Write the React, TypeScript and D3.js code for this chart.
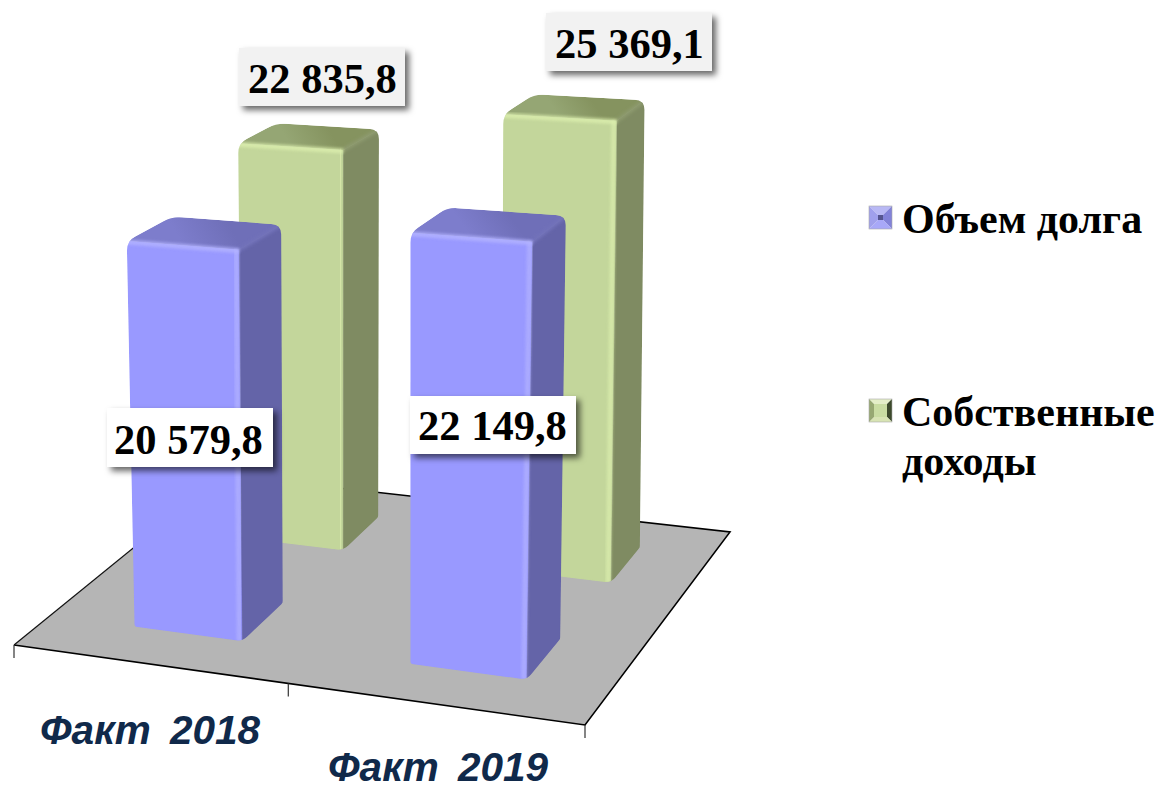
import React from "react";
import * as d3 from "d3";

const categories = ["Факт 2018", "Факт 2019"];
const seriesNames = ["Объем долга", "Собственные доходы"];
const debtValues = [20579.8, 22149.8];
const incomeValues = [22835.8, 25369.1];
const valueLabels = [["20 579,8", "22 149,8"], ["22 835,8", "25 369,1"]];

const W = 1158, H = 785;
type P = [number, number];

// floor quad in screen space: front-left, front-right, back-right, back-left
const A: P = [14, 645], B: P = [585, 725], C: P = [730, 532], D: P = [223, 475];
const den = (B[0] - C[0]) * (D[1] - C[1]) - (D[0] - C[0]) * (B[1] - C[1]);
const sx = A[0] - B[0] + C[0] - D[0], sy = A[1] - B[1] + C[1] - D[1];
const g = (sx * (D[1] - C[1]) - (D[0] - C[0]) * sy) / den;
const h = ((B[0] - C[0]) * sy - sx * (B[1] - C[1])) / den;
const a = B[0] - A[0] + g * B[0], b = D[0] - A[0] + h * D[0];
const d = B[1] - A[1] + g * B[1], e = D[1] - A[1] + h * D[1];
const weight = (u: number, v: number) => g * u + h * v + 1;
const floorPt = (u: number, v: number): P => {
  const w = weight(u, v);
  return [(a * u + b * v + A[0]) / w, (d * u + e * v + A[1]) / w];
};

const uScale = d3.scaleBand<string>().domain(categories).range([0.01, 1.01]).paddingInner(0.6).paddingOuter(0.3);
const vScale = d3.scaleBand<string>().domain(seriesNames).range([0.005, 1.01]).paddingInner(0.6).paddingOuter(0.3);
const heightScale = d3.scaleLinear().domain([0, 30000]).range([0, 570]);
const seriesShift = [0, 0.008];

const lift = (u: number, v: number, value: number, cu: number): P => {
  const [x, y] = floorPt(u, v);
  const [cx] = floorPt(cu, v);
  const hp = heightScale(value) / weight(u, v) - 8 * v;
  const k = hp / 400;
  return [x + (x - 380) * 0.033 * (1 - 0.7 * v) * k + (x - cx) * 0.015 * k, y - hp];
};

const poly = d3.line<P>().curve(d3.curveLinearClosed);
const open = d3.line<P>();

function rounded(pts: P[], radii: number[]): string {
  const n = pts.length;
  let s = "";
  pts.forEach((p, i) => {
    const prev = pts[(i + n - 1) % n], next = pts[(i + 1) % n], r = radii[i];
    const l1 = Math.hypot(prev[0] - p[0], prev[1] - p[1]), l2 = Math.hypot(next[0] - p[0], next[1] - p[1]);
    const p1: P = [p[0] + ((prev[0] - p[0]) * r) / l1, p[1] + ((prev[1] - p[1]) * r) / l1];
    const p2: P = [p[0] + ((next[0] - p[0]) * r) / l2, p[1] + ((next[1] - p[1]) * r) / l2];
    s += `${i === 0 ? "M" : "L"}${p1[0]},${p1[1]}Q${p[0]},${p[1]} ${p2[0]},${p2[1]}`;
  });
  return s + "Z";
}

const mix = (p: P, q: P, t: number): P => [p[0] + (q[0] - p[0]) * t, p[1] + (q[1] - p[1]) * t];

const blueTheme = { front: "#9999ff", side: "#6464a8", sideHi: "#7272ba", topBack: "#6f6fb8", topFront: "#7d7dcc", hi: "#b4b4ff" };
const greenTheme = { front: "#c3d69b", side: "#7f8b62", sideHi: "#8d9a6e", topBack: "#85935f", topFront: "#95a674", hi: "#dcefae" };

type Theme = typeof blueTheme;

function Bar({ id, cat, series, shift, value, theme }: { id: string; cat: string; series: string; shift: number; value: number; theme: Theme }) {
  const u0 = uScale(cat)! + shift, u1 = u0 + uScale.bandwidth(), uc = (u0 + u1) / 2;
  const v0 = vScale(series)!, v1 = v0 + vScale.bandwidth();
  const fbl = floorPt(u0, v0), fbr = floorPt(u1, v0), bbr = floorPt(u1, v1);
  const ftl = lift(u0, v0, value, uc), ftr = lift(u1, v0, value, uc);
  const btr = lift(u1, v1, value, uc), btl = lift(u0, v1, value, uc);
  const outline = rounded([fbl, ftl, btl, btr, bbr, fbr], [3, 10, 10, 10, 2, 7]);
  const topMid = mix(btl, btr, 0.5), frontMid = mix(ftl, ftr, 0.5);
  return (
    <g>
      <defs>
        <clipPath id={`clip-${id}`}><path d={outline} /></clipPath>
        <linearGradient id={`top-${id}`} gradientUnits="userSpaceOnUse" x1={topMid[0]} y1={topMid[1]} x2={frontMid[0]} y2={frontMid[1]}>
          <stop offset="0" stopColor={theme.topBack} />
          <stop offset="1" stopColor={theme.topFront} />
        </linearGradient>
      </defs>
      <g clipPath={`url(#clip-${id})`}>
        <path d={poly([fbl, ftl, ftr, fbr])!} fill={theme.front} stroke={theme.front} strokeWidth={0.5} />
        <path d={poly([fbr, ftr, btr, bbr])!} fill={theme.side} stroke={theme.side} strokeWidth={0.5} />
        <path d={poly([ftl, btl, btr, ftr])!} fill={`url(#top-${id})`} />
        <path d={open([btr, ftr])!} stroke={theme.sideHi} strokeWidth={4} fill="none" filter="url(#soft)" />
        <path d={open([fbr, ftr])!} transform="translate(-3,0)" stroke={theme.hi} strokeWidth={5} fill="none" filter="url(#soft)" opacity={0.7} />
        <path d={open([ftl, ftr])!} transform="translate(0,1)" stroke={theme.hi} strokeWidth={5} fill="none" filter="url(#soft)" opacity={0.8} />
      </g>
    </g>
  );
}

const labelBoxes = [
  [{ x: 107, y: 408, w: 166, h: 59, tx: 114, base: 454, fill: "#ffffff" }, { x: 410, y: 396, w: 166, h: 58, tx: 418, base: 440, fill: "#ffffff" }],
  [{ x: 239, y: 48, w: 166, h: 58, tx: 248, base: 93, fill: "#f2f2f2" }, { x: 546, y: 13, w: 166, h: 58, tx: 555, base: 58, fill: "#f2f2f2" }],
];

function Marker({ x, y, size, inset, colors }: { x: number; y: number; size: number; inset: number; colors: string[] }) {
  const o: P[] = [[x, y], [x + size, y], [x + size, y + size], [x, y + size]];
  const i: P[] = [[x + inset, y + inset], [x + size - inset, y + inset], [x + size - inset, y + size - inset], [x + inset, y + size - inset]];
  return (
    <g>
      {[0, 1, 2, 3].map(k => (
        <path key={k} d={poly([o[k], o[(k + 1) % 4], i[(k + 1) % 4], i[k]])!} fill={colors[k]} />
      ))}
      <path d={poly(i)!} fill={colors[4]} />
      <rect x={x} y={y} width={size} height={size} fill="none" stroke="#a8a8a8" strokeWidth={0.6} />
    </g>
  );
}

const serif = "'Liberation Serif', serif";
const sans = "'Liberation Sans', sans-serif";

export default function App() {
  const floor: P[] = [A, B, C, D];
  const ticks = [0, 0.5, 1];
  return (
    <svg width={W} height={H} viewBox={`0 0 ${W} ${H}`} style={{ position: "absolute", left: 0, top: 0, background: "#fff" }}>
      <defs>
        <filter id="soft" x="-50%" y="-50%" width="200%" height="200%">
          <feGaussianBlur stdDeviation="1.6" />
        </filter>
        <filter id="box" x="-10%" y="-15%" width="125%" height="140%">
          <feDropShadow dx="4" dy="4" stdDeviation="3" floodColor="#000" floodOpacity="0.6" />
        </filter>
      </defs>

      <path d={poly(floor)!} fill="#b5b5b5" />
      <path d={open([D, C, B, A])!} fill="none" stroke="#000" strokeWidth={1.6} />
      <path d={open([A, D])!} fill="none" stroke="#111" strokeWidth={1.2} />
      {ticks.map(t => {
        const p = floorPt(t, 0);
        return <path key={t} d={open([p, [p[0], p[1] + 13]])!} stroke="#333" strokeWidth={1.2} />;
      })}

      {categories.map((c, i) => (
        <Bar key={c} id={`g${i}`} cat={c} series={seriesNames[1]} shift={seriesShift[1]} value={incomeValues[i]} theme={greenTheme} />
      ))}
      {categories.map((c, i) => (
        <Bar key={c} id={`b${i}`} cat={c} series={seriesNames[0]} shift={seriesShift[0]} value={debtValues[i]} theme={blueTheme} />
      ))}

      {[1, 0].map(s =>
        categories.map((_, i) => {
          const bx = labelBoxes[s][i];
          return (
            <g key={`${s}-${i}`}>
              <rect x={bx.x} y={bx.y} width={bx.w} height={bx.h} fill={bx.fill} filter="url(#box)" />
              <text x={bx.tx} y={bx.base} fontFamily={serif} fontWeight={700} fontSize={42.5} fill="#000">
                {valueLabels[s][i]}
              </text>
            </g>
          );
        })
      )}

      {categories.map((c, i) => (
        <text key={c} x={[40, 328][i]} y={[744, 781][i]} fontFamily={sans} fontWeight={700} fontStyle="italic" fontSize={40.5} wordSpacing={8} fill="#10294a">
          {c}
        </text>
      ))}

      <Marker x={869} y={206} size={23} inset={9} colors={["#b8b8f4", "#8282d8", "#a8a8f8", "#a0a0ec", "#55558f"]} />
      <Marker x={869} y={399} size={23} inset={5} colors={["#e4eec8", "#3d4a2c", "#d8e4b4", "#97a872", "#c9dca2"]} />
      <g fontFamily={serif} fontWeight={700} fontSize={42} fill="#000">
        <text x={902} y={233}>{seriesNames[0]}</text>
        <text x={902} y={426}>{seriesNames[1].split(" ")[0]}</text>
        <text x={902} y={475}>{seriesNames[1].split(" ")[1]}</text>
      </g>
    </svg>
  );
}
